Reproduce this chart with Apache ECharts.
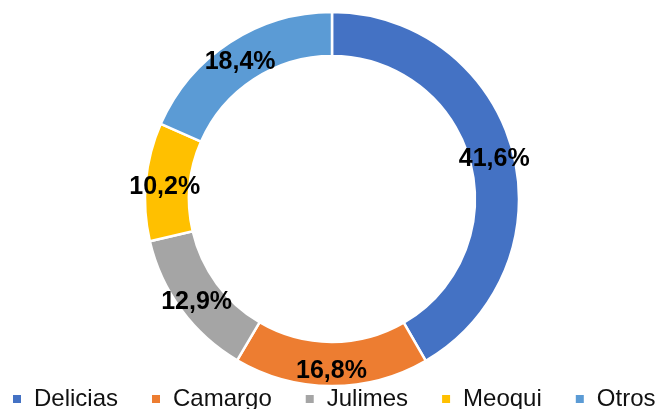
<!DOCTYPE html>
<html>
<head>
<meta charset="utf-8">
<script src="https://cdn.jsdelivr.net/npm/echarts@6/dist/echarts.min.js"></script>
<style>html,body{margin:0;padding:0;background:#fff;}#c{width:657px;height:409px;}</style>
</head>
<body>
<div id="c"></div>
<script>
const categories = ['Delicias', 'Camargo', 'Julimes', 'Meoqui', 'Otros'];
const values = [41.6, 16.8, 12.9, 10.2, 18.4];
const colors = ['#4472C4', '#ED7D31', '#A5A5A5', '#FFC000', '#5B9BD5'];

const chart = echarts.init(document.getElementById('c'), null, {renderer: 'canvas'});
chart.setOption({
  animation: false,
  color: colors,
  legend: {
    data: categories,
    orient: 'horizontal',
    left: 13,
    top: 387,
    width: 900,
    padding: 0,
    itemWidth: 8,
    itemHeight: 8,
    itemGap: 34,
    icon: 'rect',
    itemStyle: {borderWidth: 0},
    textStyle: {
      fontFamily: 'Liberation Sans',
      fontSize: 24,
      color: '#111',
      padding: [0, 0, 0, 8],
      lineHeight: 24
    }
  },
  series: [{
    type: 'pie',
    center: [332, 199],
    radius: [143, 187],
    startAngle: 90,
    clockwise: true,
    avoidLabelOverlap: false,
    itemStyle: {borderColor: '#fff', borderWidth: 2.5},
    label: {
      show: true,
      position: 'inside',
      offset: [0, 4],
      fontFamily: 'Liberation Sans',
      fontWeight: 'bold',
      fontSize: 25,
      color: '#000',
      formatter: p => p.value.toFixed(1).replace('.', ',') + '%'
    },
    labelLine: {show: false},
    emphasis: {disabled: true},
    data: categories.map((n, i) => ({name: n, value: values[i]}))
  }]
});
</script>
</body>
</html>
